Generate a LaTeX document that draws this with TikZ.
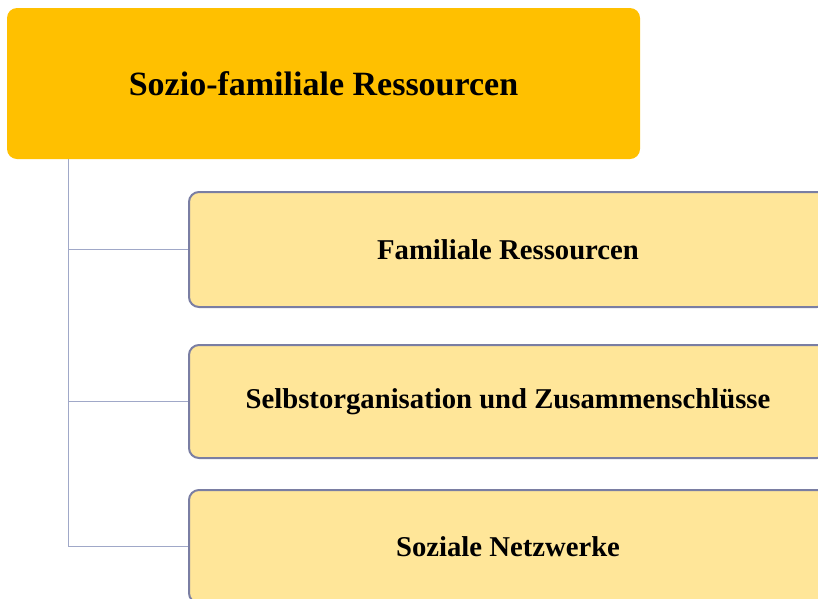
\documentclass[tikz,border=0pt]{standalone}
\usepackage{fontspec}
\setmainfont{Liberation Serif}
\definecolor{topfill}{HTML}{FFC000}
\definecolor{childfill}{HTML}{FFE699}
\definecolor{childdraw}{HTML}{7A7EA3}
\definecolor{linecol}{HTML}{A0A8C8}
\begin{document}
\begin{tikzpicture}[x=1pt,y=-1pt,
  topbox/.style={fill=topfill, draw=none, rounded corners=10pt, inner sep=0pt,
    minimum width=633pt, minimum height=151pt,
    font=\fontsize{34}{40}\selectfont\bfseries},
  childbox/.style={fill=childfill, draw=childdraw, line width=2pt, rounded corners=10pt,
    inner sep=0pt, minimum width=638pt,
    font=\fontsize{28.7}{34}\selectfont\bfseries},
  conn/.style={draw=linecol, line width=1.8pt}]
\useasboundingbox (0,0) rectangle (818,598);
\clip (0,0) rectangle (818,598);
\node[topbox] (top) at (323.5,83.5) {Sozio-familiale Ressourcen};
\node[childbox, minimum height=115pt] (c1) at (508,249.5) {Familiale Ressourcen};
\node[childbox, minimum height=113pt] (c2) at (508,401.5) {Selbstorganisation und Zusammenschlüsse};
\node[childbox, minimum height=113pt] (c3) at (508,546.5) {Soziale Netzwerke};
\coordinate (spine) at (68.5,0);
\draw[conn] (top.south -| spine) |- (c3.west);
\draw[conn] (c1.west -| spine) -- (c1.west);
\draw[conn] (c2.west -| spine) -- (c2.west);
\end{tikzpicture}
\end{document}
